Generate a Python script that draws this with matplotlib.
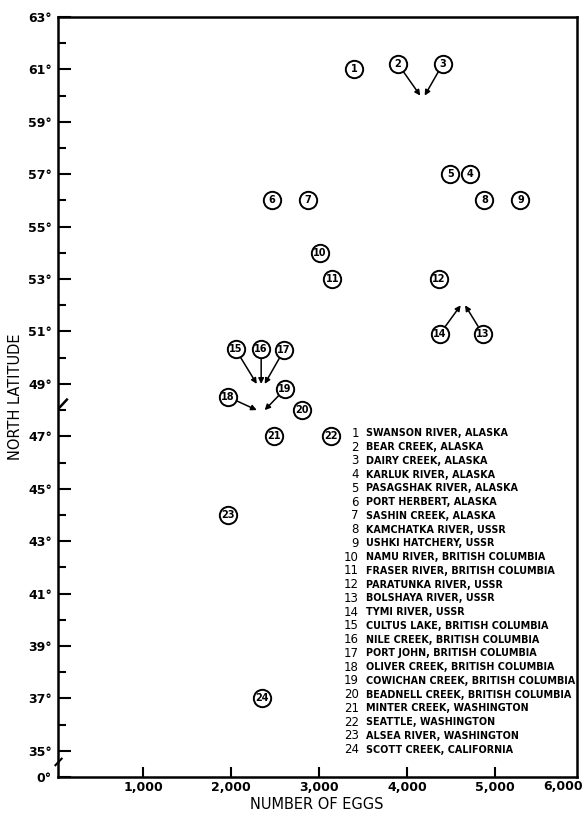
"""Egg number vs. north latitude for sockeye populations (recreated figure)."""
import matplotlib
matplotlib.use("Agg")
import matplotlib.pyplot as plt
from matplotlib.transforms import offset_copy, blended_transform_factory

# ---- data -----------------------------------------------------------------
pop_id = list(range(1, 25))
eggs = [3400, 4150, 4200, 4720, 4490, 2460, 2870, 4880, 5290, 3010, 3150, 4360,
        4660, 4610, 2290, 2340, 2380, 2290, 2380, 2800, 2490, 3130, 1960, 2350]
latitude = [61, 60, 60, 57, 57, 56, 56, 56, 56, 54, 53, 53,
            52, 52, 49, 49, 49, 48, 48, 48, 47, 47, 44, 37]
pop_names = [
    "SWANSON RIVER, ALASKA",
    "BEAR CREEK, ALASKA",
    "DAIRY CREEK, ALASKA",
    "KARLUK RIVER, ALASKA",
    "PASAGSHAK RIVER, ALASKA",
    "PORT HERBERT, ALASKA",
    "SASHIN CREEK, ALASKA",
    "KAMCHATKA RIVER, USSR",
    "USHKI HATCHERY, USSR",
    "NAMU RIVER, BRITISH COLUMBIA",
    "FRASER RIVER, BRITISH COLUMBIA",
    "PARATUNKA RIVER, USSR",
    "BOLSHAYA RIVER, USSR",
    "TYMI RIVER, USSR",
    "CULTUS LAKE, BRITISH COLUMBIA",
    "NILE CREEK, BRITISH COLUMBIA",
    "PORT JOHN, BRITISH COLUMBIA",
    "OLIVER CREEK, BRITISH COLUMBIA",
    "COWICHAN CREEK, BRITISH COLUMBIA",
    "BEADNELL CREEK, BRITISH COLUMBIA",
    "MINTER CREEK, WASHINGTON",
    "SEATTLE, WASHINGTON",
    "ALSEA RIVER, WASHINGTON",
    "SCOTT CREEK, CALIFORNIA",
]
x_ticks = [1000, 2000, 3000, 4000, 5000]
x_last_label = "6,000"   # 枠の右端に寄せて書かれている
lat_ticks = [34] + list(range(35, 64, 2))
lat_labels = ["0°"] + [f"{v}°" for v in range(35, 64, 2)]

# 混んでいる所は番号を外に出して矢印で指す（オフセットは points）
label_offset = {
    2: (-16, 22.7), 3: (13, 22.7),
    13: (12.7, -20.6), 14: (-15, -20.6),
    15: (-15.3, 25), 16: (0, 25), 17: (13.9, 24.3),
    18: (-20.7, 9.5), 19: (14.6, 15.1),
}

# ---- figure ---------------------------------------------------------------
fig = plt.figure(figsize=(5.84, 8.13), dpi=100)
ax = fig.add_axes([57.5 / 584, 1 - 777 / 813, (577 - 57.5) / 584, (777 - 17) / 813])
ax.set_xlim(23, 5933)
ax.set_ylim(34, 63)

for sp in ax.spines.values():
    sp.set_linewidth(1.8)

ax.set_xticks(x_ticks)
ax.set_xticklabels([f"{v:,}" for v in x_ticks], fontsize=9, fontweight="bold")
ax.set_yticks(lat_ticks)
ax.set_yticklabels(lat_labels, fontsize=9, fontweight="bold")
ax.set_yticks(list(range(36, 63, 2)), minor=True)
ax.tick_params(axis="x", direction="in", length=7, width=1.5, pad=3)
ax.tick_params(axis="y", which="major", direction="in", length=9.5, width=1.5, pad=4)
ax.tick_params(axis="y", which="minor", direction="in", length=6, width=1.5)
ax.set_xlabel("NUMBER OF EGGS", fontsize=10.5, labelpad=2)
ax.set_ylabel("NORTH LATITUDE", fontsize=10.5, labelpad=4)
fig.text(583 / 584, 1 - 780 / 813, x_last_label, ha="right", va="top",
         fontsize=9, fontweight="bold")

# 点: 丸に番号
for n, x, y in zip(pop_id, eggs, latitude):
    dx, dy = label_offset.get(n, (0, 0))
    tr = offset_copy(ax.transData, fig=fig, x=dx, y=dy, units="points")
    ax.plot(x, y, "o", ms=12.5, mfc="white", mec="black", mew=1.4,
            transform=tr, zorder=3, clip_on=False)
    ax.text(x, y, str(n), transform=tr, ha="center", va="center",
            fontsize=7, fontweight="bold", zorder=4)
    if n in label_offset:
        ax.annotate("", xy=(x, y), xytext=(dx, dy), textcoords="offset points",
                    arrowprops=dict(arrowstyle="-|>", lw=1.1, color="black",
                                    shrinkA=6.5, shrinkB=0, mutation_scale=8),
                    zorder=2)

# 凡例（番号と地名のリスト）
y0 = (777 - 433.3) / 760
step = 13.75 / 760
for i, (n, name) in enumerate(zip(pop_id, pop_names)):
    yy = y0 - i * step
    ax.text((359 - 57.5) / 519.5, yy, str(n), transform=ax.transAxes,
            ha="right", va="center", fontsize=8.5)
    ax.text((366.5 - 57.5) / 519.5, yy, name, transform=ax.transAxes,
            ha="left", va="center", fontsize=6.9, fontweight="bold")

# 軸の切れ目マーク
bt = blended_transform_factory(ax.transAxes, ax.transData)
ax.plot([-0.004, 0.008], [34.45, 34.7], color="black", lw=1.5,
        transform=bt, clip_on=False)
ax.plot([0.004, 0.018], [48.1, 48.4], color="black", lw=1.8,
        transform=bt, clip_on=False)

fig.savefig("out.png", dpi=100)
